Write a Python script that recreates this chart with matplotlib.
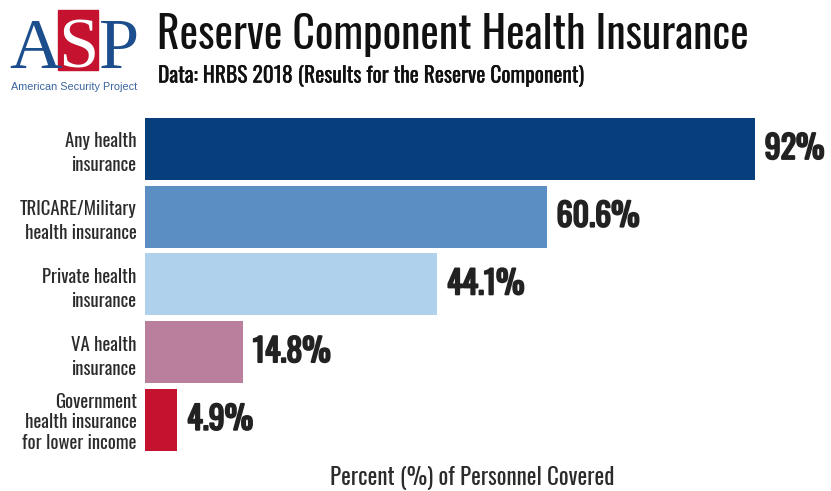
import matplotlib.pyplot as plt
import matplotlib.patheffects as pe
from matplotlib.patches import Rectangle

categories = ["Any health\ninsurance", "TRICARE/Military\nhealth insurance",
              "Private health\ninsurance", "VA health\ninsurance",
              "Government\nhealth insurance\nfor lower income"]
values = [92, 60.6, 44.1, 14.8, 4.9]
value_labels = ["92%", "60.6%", "44.1%", "14.8%", "4.9%"]
colors = ["#073e7c", "#5b8ec2", "#afd1ec", "#b97f9c", "#c4122f"]

plt.rcParams["font.family"] = ["Oswald", "Barlow Condensed", "DejaVu Sans"]

fig = plt.figure(figsize=(8.31, 4.91), dpi=100)
W, H = 831, 491
ax = fig.add_axes([145 / W, 1 - 453.6 / H, 663 / W, 338.5 / H])

y = range(len(values))
ax.barh(y, values, height=0.915, color=colors, edgecolor="none")
ax.set_xlim(0, 100)
ax.set_ylim(4.5, -0.5)
for s in ax.spines.values():
    s.set_visible(False)
ax.set_xticks([])
ax.set_yticks(list(y))
ax.set_yticklabels(categories, fontsize=13.5, color="#2b2b2b")
for t in ax.get_yticklabels():
    t.set_linespacing(1.15 if t.get_text().count("\n") > 1 else 1.4)
ax.tick_params(axis="y", length=0, pad=6)

bold = [pe.withStroke(linewidth=1.4, foreground="#222222")]
for i, (v, lab) in enumerate(zip(values, value_labels)):
    ax.annotate(lab, (v, i), xytext=(7, 0), textcoords="offset points",
                va="center", ha="left", fontsize=23, color="#222222", path_effects=bold)

fig.text(472 / W, 1 - 478 / H, "Percent (%) of Personnel Covered", ha="center", va="center",
         fontsize=16.5, color="#2b2b2b")

# title block
fig.text(157 / W, 1 - 35 / H, "Reserve Component Health Insurance", ha="left", va="center",
         fontsize=31.5, color="#111111")
fig.text(158 / W, 1 - 76 / H, "Data: HRBS 2018 (Results for the Reserve Component)", ha="left",
         va="center", fontsize=15.5, color="#111111",
         path_effects=[pe.withStroke(linewidth=0.2, foreground="#111111")])

# logo
fig.patches.append(Rectangle((58 / W, 1 - 70 / H), 40 / W, 60 / H, transform=fig.transFigure,
                             color="#c4122f"))
logo_font = ["Liberation Serif", "DejaVu Serif"]
fig.text(35 / W, 1 - 68 / H, "A", ha="center", va="baseline", fontsize=52, color="#1c4d8c",
         family=logo_font)
fig.text(78 / W, 1 - 68 / H, "S", ha="center", va="baseline", fontsize=52, color="white",
         family=logo_font)
fig.text(119 / W, 1 - 68 / H, "P", ha="center", va="baseline", fontsize=52, color="#1c4d8c",
         family=logo_font)
fig.text(74 / W, 1 - 87 / H, "American Security Project", ha="center", va="center",
         fontsize=7.8, color="#3a64a0", family=["Liberation Sans", "DejaVu Sans"])

fig.savefig("out.png", dpi=100)
